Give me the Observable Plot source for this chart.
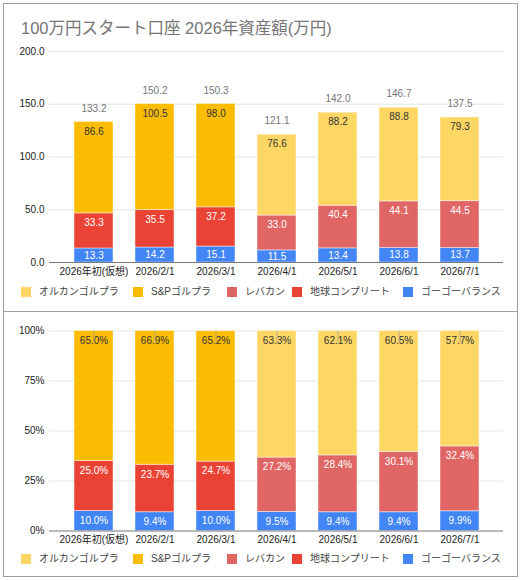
<!DOCTYPE html>
<html>
<head>
<meta charset="utf-8">
<script src="https://cdn.jsdelivr.net/npm/d3@7"></script>
<script src="https://cdn.jsdelivr.net/npm/@observablehq/plot@0.6"></script>
<style>
  body { margin: 0; background: white; }
  #root { position: relative; width: 520px; height: 580px; overflow: hidden; background: white;
          font-family: "Liberation Sans", Arial, "Noto Sans CJK JP", sans-serif; }
  .frame { position: absolute; left: 3px; top: 3px; width: 515px; height: 574px; box-sizing: border-box;
           border: 1px solid #9e9e9e; z-index: 5; pointer-events: none; }
  .sep { position: absolute; left: 3px; top: 311px; width: 515px; height: 1px; background: #9e9e9e; z-index: 5; }
  .title { position: absolute; left: 21px; top: 19px; font-size: 16.5px; line-height: 18px; color: #757575; white-space: nowrap; }
  .leg { position: absolute; font-size: 10px; line-height: 12px; color: #444; white-space: nowrap; }
  .leg .sw { position: absolute; left: 0; top: 1px; width: 10px; height: 10px; }
  .leg .tx { position: absolute; left: 18px; top: 0; }
</style>
</head>
<body>
<div id="root">
  <div class="frame"></div>
  <div class="sep"></div>
  <div class="title">100万円スタート口座 2026年資産額(万円)</div>
</div>
<script>
// ---- data ----
const dates = ["2026年初(仮想)", "2026/2/1", "2026/3/1", "2026/4/1", "2026/5/1", "2026/6/1", "2026/7/1"];

// 資産額(万円)
const gogoBalance   = [13.3, 14.2, 15.1, 11.5, 13.4, 13.8, 13.7];
const chikyuComp    = [33.3, 35.5, 37.2, null, null, null, null];
const levcan        = [null, null, null, 33.0, 40.4, 44.1, 44.5];
const spGolpla      = [86.6, 100.5, 98.0, null, null, null, null];
const orcanGolpla   = [null, null, null, 76.6, 88.2, 88.8, 79.3];

// 構成比(%)
const gogoBalancePct = [10.0, 9.4, 10.0, 9.5, 9.4, 9.4, 9.9];
const chikyuCompPct  = [25.0, 23.7, 24.7, null, null, null, null];
const levcanPct      = [null, null, null, 27.2, 28.4, 30.1, 32.4];
const spGolplaPct    = [65.0, 66.9, 65.2, null, null, null, null];
const orcanGolplaPct = [null, null, null, 63.3, 62.1, 60.5, 57.7];

const legendNames  = ["オルカンゴルプラ", "S&Pゴルプラ", "レバカン", "地球コンプリート", "ゴーゴーバランス"];
const legendColors = ["#fdd663", "#fbbc04", "#e06666", "#ea4335", "#4285f4"];

const yTicksTop = [0, 50, 100, 150, 200];
const yTicksPct = [0, 25, 50, 75, 100];

// ---- helpers ----
function buildRows(blue, red1, red2, yel1, yel2) {
  const ser = [
    {name: "ゴーゴーバランス", values: blue, kind: "blue"},
    {name: "地球コンプリート", values: red1, kind: "red"},
    {name: "レバカン", values: red2, kind: "red"},
    {name: "S&Pゴルプラ", values: yel1, kind: "yellow"},
    {name: "オルカンゴルプラ", values: yel2, kind: "yellow"}
  ];
  return dates.flatMap((date, i) => ser.filter(s => s.values[i] != null)
    .map(s => ({date, series: s.name, value: s.values[i], kind: s.kind})));
}

const font = '"Liberation Sans", Arial, "Noto Sans CJK JP", sans-serif';
const f1 = d3.format(".1f");

function makeChart({rows, height, marginTop, marginBottom, yDomain, yTicks, tickFmt, labelFmt, totals, stems}) {
  const xOpts = {x: "date", y: "value", z: "series"};
  const marks = [
    Plot.ruleY(yTicks.filter(t => t !== 0), {stroke: "#e3e3e3"}),
    Plot.barY(rows, {...xOpts, fill: "series", stroke: "white", strokeOpacity: 0.45, strokeWidth: 1}),
    Plot.ruleY([0], {stroke: "#777"}),
    Plot.text(rows, Plot.stackY({...xOpts, text: d => d.kind === "blue" ? labelFmt(d.value) : null, fill: "white", fontSize: 10})),
    Plot.text(rows, Plot.stackY2({...xOpts, text: d => d.kind === "red" ? labelFmt(d.value) : null, fill: "white", dy: 9.5, fontSize: 10})),
    Plot.text(rows, Plot.stackY2({...xOpts, text: d => d.kind === "yellow" ? labelFmt(d.value) : null, fill: "#333", dy: 9.5, fontSize: 10})),
    Plot.axisY({ticks: yTicks, tickFormat: tickFmt, tickSize: 0, tickPadding: 5, label: null, fontSize: 10}),
    Plot.axisX({tickSize: 0, tickPadding: 5, label: null, fontSize: 10})
  ];
  if (totals) {
    marks.push(Plot.text(dates, {x: d => d, y: (d, i) => totals[i], text: (d, i) => f1(totals[i]), dy: -13.5, fill: "#757575", fontSize: 10}));
  }
  if (stems) {
    marks.push(Plot.ruleX(dates, {x: d => d, y1: yDomain[1], y2: yDomain[1], insetBottom: -12, stroke: "#9e9e9e", strokeWidth: 0.7}));
  }
  return Plot.plot({
    width: 520, height, marginTop, marginBottom, marginLeft: 49, marginRight: 17,
    style: {fontFamily: font, fontSize: "10px", color: "#222", background: "transparent", overflow: "visible"},
    x: {type: "band", domain: dates, range: [60.1, 492.6], paddingInner: 0.353, paddingOuter: 0.1765, axis: null},
    y: {domain: yDomain, axis: null},
    color: {domain: legendNames, range: legendColors},
    marks
  });
}

const rowsTop = buildRows(gogoBalance, chikyuComp, levcan, spGolpla, orcanGolpla);
const totalsTop = dates.map((d, i) => d3.sum([gogoBalance[i], chikyuComp[i], levcan[i], spGolpla[i], orcanGolpla[i]]));
const rowsPct = buildRows(gogoBalancePct, chikyuCompPct, levcanPct, spGolplaPct, orcanGolplaPct);

const rootEl = document.getElementById("root");

const chartTop = makeChart({rows: rowsTop, height: 312, marginTop: 51, marginBottom: 50, yDomain: [0, 200],
  yTicks: yTicksTop, tickFmt: d3.format(".1f"), labelFmt: f1, totals: totalsTop, stems: false});
chartTop.style.position = "absolute"; chartTop.style.left = "0px"; chartTop.style.top = "0px";
rootEl.appendChild(chartTop);

const chartPct = makeChart({rows: rowsPct, height: 268, marginTop: 18.5, marginBottom: 49.5, yDomain: [0, 100],
  yTicks: yTicksPct, tickFmt: d => d + "%", labelFmt: v => f1(v) + "%", totals: null, stems: true});
chartPct.style.position = "absolute"; chartPct.style.left = "0px"; chartPct.style.top = "312px";
rootEl.appendChild(chartPct);

// legends
const legX = [21, 133, 227, 292, 403];
function addLegend(cy) {
  legendNames.forEach((name, i) => {
    const item = document.createElement("div");
    item.className = "leg";
    item.style.left = legX[i] + "px";
    item.style.top = (cy - 6) + "px";
    item.innerHTML = `<span class="sw" style="background:${legendColors[i]}"></span><span class="tx"></span>`;
    item.querySelector(".tx").textContent = name;
    rootEl.appendChild(item);
  });
}
addLegend(291.7);
addLegend(559);
</script>
</body>
</html>
